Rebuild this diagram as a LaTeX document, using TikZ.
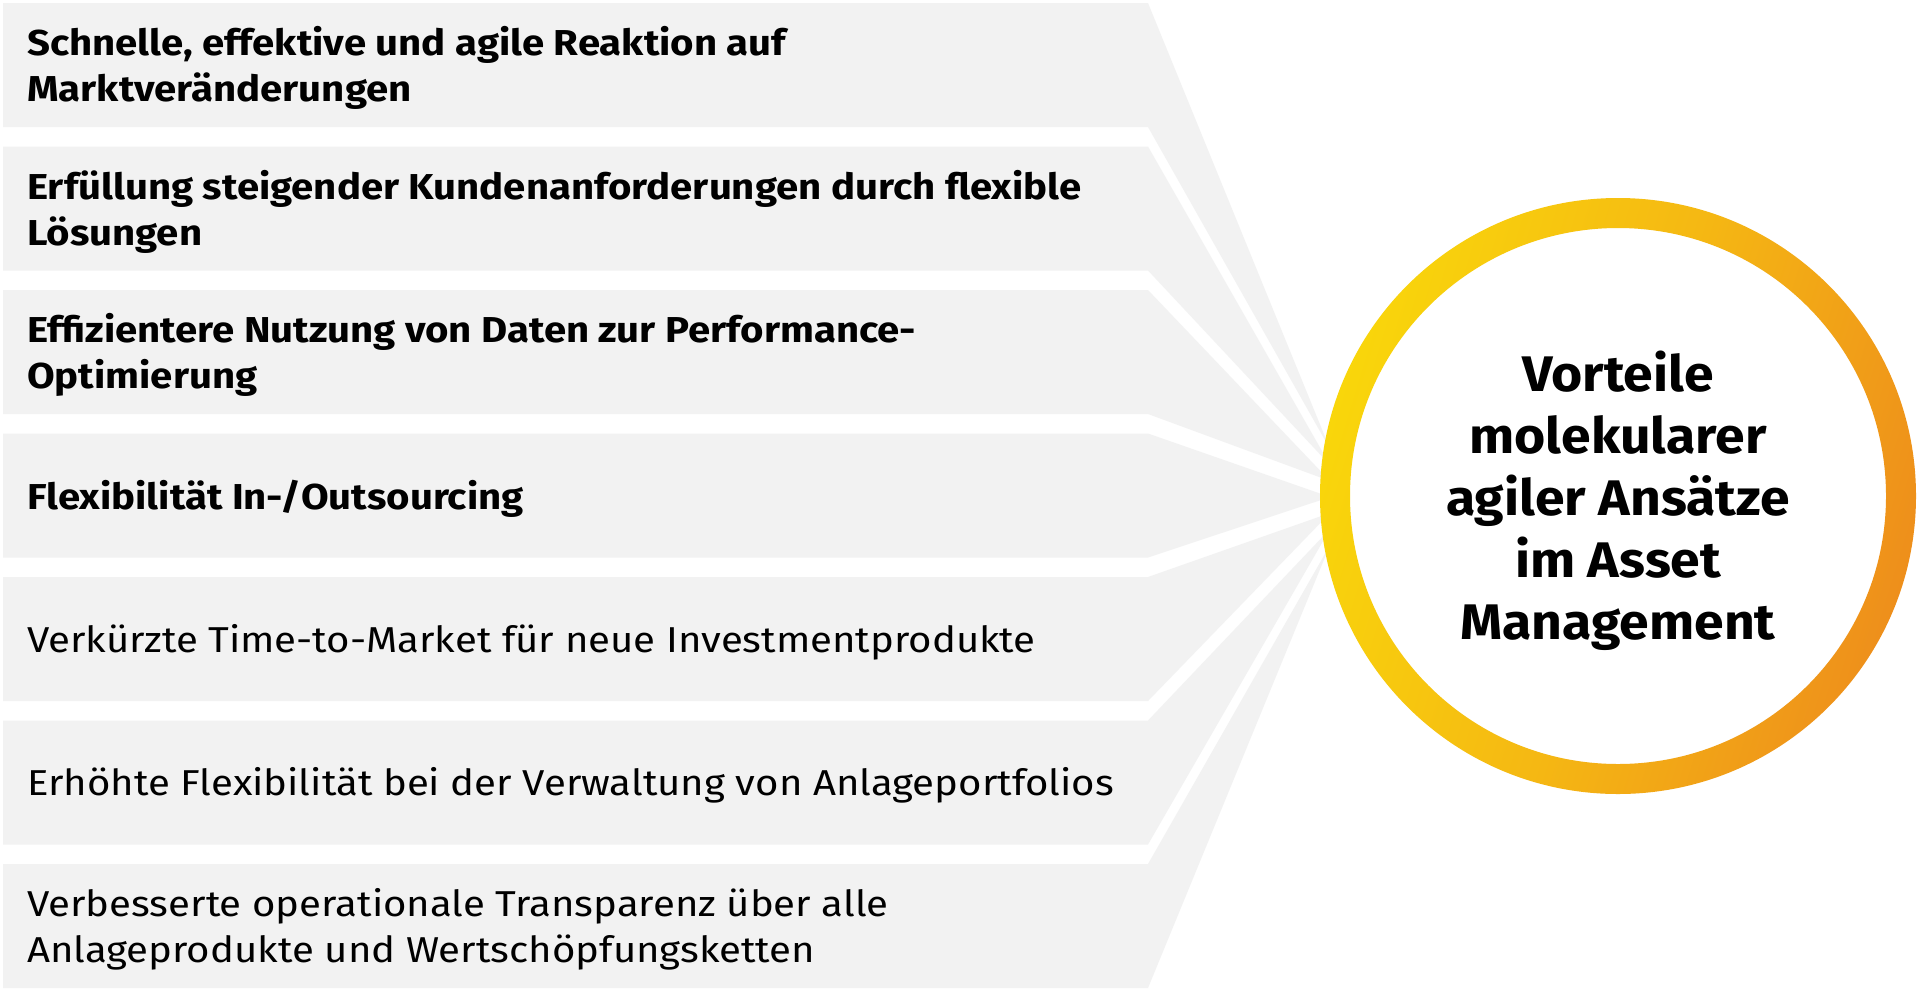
\documentclass[tikz,border=0pt]{standalone}
\usepackage{fontspec}
\setmainfont{Fira Sans}
\newfontfamily\itemfont[FakeStretch=1.115]{Fira Sans}
\newfontfamily\circfont[FakeStretch=1.07]{Fira Sans}
\definecolor{boxgray}{HTML}{F2F2F2}
\definecolor{ringY}{HTML}{F9D60B}
\definecolor{ringA}{HTML}{F5B813}
\definecolor{ringO}{HTML}{EE8F1B}
\begin{document}
\begin{tikzpicture}[x=1pt,y=-1pt,
  itemtext/.style={anchor=west, inner sep=0pt, align=left, font=\itemfont\fontsize{36}{46}\selectfont},
  itembold/.style={anchor=west, inner sep=0pt, align=left, font=\itemfont\fontsize{36}{46}\selectfont\bfseries},
  centertext/.style={inner sep=0pt, align=center, font=\circfont\fontsize{50}{62}\selectfont\bfseries},
  wedge/.style={fill=boxgray, draw=none}]
\useasboundingbox (0,0) rectangle (1920,997);
\fill[white] (0,0) rectangle (1920,997);
\foreach \i in {0,...,6} {
  \pgfmathsetmacro\t{3+143.5*\i}
  \pgfmathsetmacro\b{\t+124}
  \pgfmathsetmacro\p{449+16*\i}
  \fill[wedge] (3,\t) -- (1148,\t) -- (1330,\p) -- (1148,\b) -- (3,\b) -- cycle;
}
\node[itembold] (n1) at (27,68) {Schnelle, effektive und agile Reaktion auf\\Marktveränderungen};
\node[itembold] (n2) at (27,211.5) {Erfüllung steigender Kundenanforderungen durch flexible\\Lösungen};
\node[itembold] (n3) at (27,355) {Effizientere Nutzung von Daten zur Performance-\\Optimierung};
\node[itembold] (n4) at (27,498.5) {Flexibilität In-/Outsourcing};
\node[itemtext] (n5) at (27,642) {Verkürzte Time-to-Market für neue Investmentprodukte};
\node[itemtext] (n6) at (27,785.5) {Erhöhte Flexibilität bei der Verwaltung von Anlageportfolios};
\node[itemtext] (n7) at (27,929) {Verbesserte operationale Transparenz über alle\\Anlageprodukte und Wertschöpfungsketten};
\shade[even odd rule, left color=ringY, right color=ringO, middle color=ringA, shading angle=73]
  (1618,496) circle[radius=298] (1618,496) circle[radius=268];
\node[centertext] (c) at (1618,501) {Vorteile\\molekularer\\agiler Ansätze\\im Asset\\Management};
\end{tikzpicture}
\end{document}
